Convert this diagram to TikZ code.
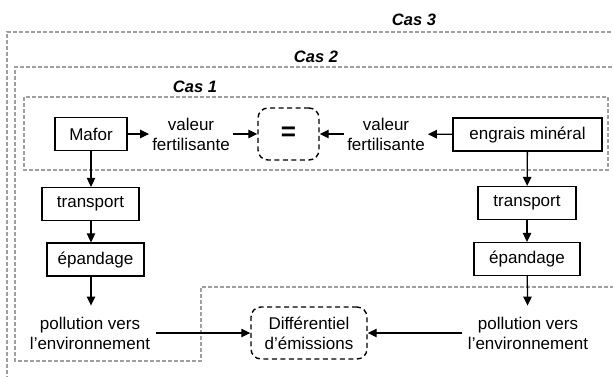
\documentclass[tikz,border=0pt]{standalone}
\usepackage{fontspec}
\setmainfont{Liberation Sans}
\usetikzlibrary{arrows.meta}
\begin{document}
\begin{tikzpicture}[x=1pt,y=-1pt,
  txt/.style={font=\fontsize{17}{20}\selectfont, align=center},
  stepbox/.style={txt, draw, line width=1.3pt, inner sep=0pt, minimum height=33pt},
  label/.style={txt, inner sep=3pt},
  poll/.style={txt, inner xsep=6pt, inner ysep=11pt},
  softbox/.style={txt, draw, line width=1.4pt, dash pattern=on 5pt off 3.5pt,
                  rounded corners=10pt, inner sep=0pt},
  zone/.style={draw=gray!75, line width=1.1pt, dash pattern=on 4pt off 2pt},
  caslabel/.style={font=\fontsize{16.5}{18}\selectfont\bfseries\itshape},
  flow/.style={line width=1.3pt, -{Triangle[length=9pt,width=8.5pt]}}]
\clip (0,0) rectangle (613,376);
\fill[white] (0,0) rectangle (613,376);

% nested scopes
\draw[zone] (7,380) -- (7,32) -- (620,32);
\draw[zone] (620,287) -- (201,287) -- (201,361) -- (15,361) -- (15,67) -- (620,67);
\draw[zone] (24,97) rectangle (608,170);
\node[caslabel] (cas3) at (414,20) {Cas 3};
\node[caslabel] (cas2) at (316,57) {Cas 2};
\node[caslabel] (cas1) at (195,87) {Cas 1};

% left chain: Mafor
\node[stepbox, minimum width=72pt] (mafor) at (91,134) {Mafor};
\node[label] (valL) at (191,134) {valeur\\fertilisante};
\node[softbox, minimum width=61pt, minimum height=52pt] (eq) at (288.5,134)
  {\fontsize{26}{26}\selectfont\bfseries =};
\node[label] (valR) at (386,134) {valeur\\fertilisante};
\node[stepbox, minimum width=149pt] (engrais) at (527.5,134.5) {engrais minéral};

\node[stepbox, minimum width=97pt] (transL) at (90.5,204) {transport};
\node[stepbox, minimum width=97pt] (epL) at (95.5,259.5) {épandage};
\node[poll] (pollL) at (90,333) {pollution vers\\l’environnement};

% right chain: mineral fertiliser
\node[stepbox, minimum width=98pt] (transR) at (527,203) {transport};
\node[stepbox, minimum width=106pt] (epR) at (527,259) {épandage};
\node[poll] (pollR) at (528,333) {pollution vers\\l’environnement};

\node[softbox, minimum width=116pt, minimum height=52pt] (diff) at (309,333)
  {Différentiel\\d’émissions};

% connectors
\draw[flow] (mafor) -- (valL);
\draw[flow] (valL) -- (eq);
\draw[flow] (engrais) -- (valR);
\draw[flow] (valR) -- (eq);
\draw[flow] (mafor.south) -- (mafor.south |- transL.north);
\draw[flow] (transL.south -| mafor) -- (mafor |- epL.north);
\draw[flow] (epL.south -| mafor) -- (mafor |- pollL.north);
\draw[flow] (engrais) -- (transR);
\draw[flow] (transR) -- (epR);
\draw[flow] (epR) -- (pollR);
\draw[flow] (pollL) -- (diff);
\draw[flow] (pollR) -- (diff);
\end{tikzpicture}
\end{document}
